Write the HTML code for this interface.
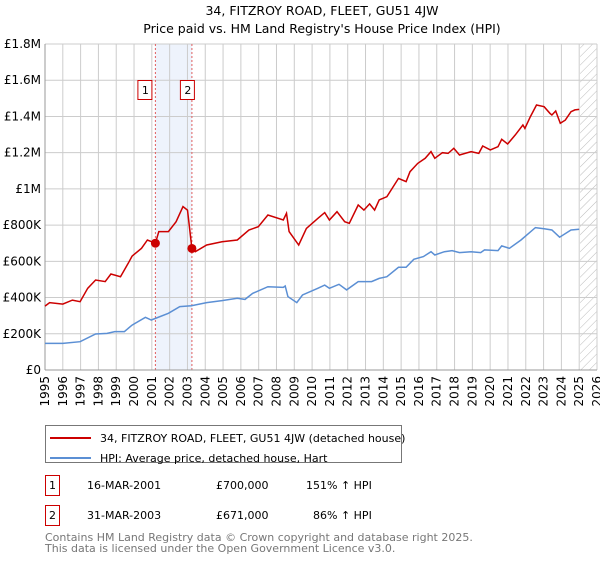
<!DOCTYPE html>
<html><head><meta charset="utf-8"><style>
body{margin:0;background:#fff;font-family:"Liberation Sans","DejaVu Sans",sans-serif}
</style></head><body>
<svg id="c" width="600" height="560" xmlns="http://www.w3.org/2000/svg" style="font-family:'DejaVu Sans','Liberation Sans',sans-serif">
<text x="322" y="15" text-anchor="middle" font-size="12.5">34, FITZROY ROAD, FLEET, GU51 4JW</text>
<text x="322" y="33" text-anchor="middle" font-size="12.5">Price paid vs. HM Land Registry's House Price Index (HPI)</text>
<g id="grid"></g><g id="axes"></g><g id="series"></g>
<g>
<rect x="45.5" y="425.5" width="356" height="37" fill="#fff" stroke="#777"/>
<line x1="50" y1="438" x2="91" y2="438" stroke="#cc0000" stroke-width="2"/>
<text x="100" y="442" font-size="11">34, FITZROY ROAD, FLEET, GU51 4JW (detached house)</text>
<line x1="50" y1="458" x2="91" y2="458" stroke="#5b8fd4" stroke-width="2"/>
<text x="100" y="462" font-size="11">HPI: Average price, detached house, Hart</text>
</g>
<g font-size="11">
<rect x="45.5" y="475.5" width="14" height="20" fill="#fff" stroke="#cc0000"/><text x="52.5" y="489" text-anchor="middle">1</text>
<text x="87" y="489">16-MAR-2001</text><text x="216" y="489">£700,000</text><text x="306" y="489">151% ↑ HPI</text>
<rect x="45.5" y="505.5" width="14" height="20" fill="#fff" stroke="#cc0000"/><text x="52.5" y="519" text-anchor="middle">2</text>
<text x="87" y="519">31-MAR-2003</text><text x="216" y="519">£671,000</text><text x="313" y="519">86% ↑ HPI</text>
</g>
<text x="45" y="541" font-size="11" fill="#777">Contains HM Land Registry data © Crown copyright and database right 2025.</text>
<text x="45" y="552" font-size="11" fill="#777">This data is licensed under the Open Government Licence v3.0.</text>
</svg>
<script>
const redYears=[1995.0,1995.26,1996.0,1996.54,1996.97,1997.4,1997.84,1998.38,1998.7,1999.24,1999.67,1999.89,2000.42,2000.75,2001.2,2001.39,2001.93,2002.36,2002.75,2003.0,2003.25,2003.44,2004.08,2004.94,2005.8,2006.45,2006.98,2007.52,2008.38,2008.56,2008.71,2009.25,2009.68,2010.32,2010.71,2010.97,2011.4,2011.83,2012.09,2012.59,2012.91,2013.23,2013.51,2013.77,2014.2,2014.85,2015.28,2015.5,2015.93,2016.35,2016.68,2016.89,2017.32,2017.64,2017.96,2018.28,2018.93,2019.36,2019.58,2020.01,2020.44,2020.65,2020.98,2021.41,2021.84,2021.95,2022.26,2022.6,2023.03,2023.36,2023.47,2023.68,2023.94,2024.22,2024.54,2024.76,2025.0];
const redVals=[353,372,364,386,377,451,497,488,530,515,589,629,672,718,700,764,764,819,902,883,671,653,690,708,718,773,791,856,828,865,764,690,782,837,869,828,874,819,810,911,883,917,883,939,957,1058,1040,1095,1141,1169,1206,1169,1200,1196,1224,1187,1206,1196,1237,1215,1233,1274,1248,1298,1353,1334,1399,1463,1454,1417,1408,1430,1362,1380,1426,1436,1439];
const hpiYears=[1995.0,1996.0,1996.97,1997.84,1998.49,1998.92,1999.46,1999.89,2000.64,2000.97,2001.93,2002.57,2003.22,2004.08,2004.94,2005.8,2006.23,2006.66,2007.52,2008.38,2008.49,2008.64,2009.14,2009.46,2010.32,2010.71,2010.97,2011.51,2011.94,2012.59,2013.34,2013.77,2014.2,2014.85,2015.28,2015.71,2016.25,2016.68,2016.89,2017.43,2017.86,2018.28,2018.93,2019.47,2019.68,2020.44,2020.65,2021.08,2021.73,2022.54,2023.03,2023.47,2023.9,2024.54,2025.0];
const hpiVals=[147,147,156,199,202,212,212,248,291,276,313,350,355,372,383,396,390,423,460,456,464,405,372,414,451,469,451,473,442,488,488,506,515,567,567,611,626,653,635,653,659,648,653,648,663,659,685,672,718,786,780,773,733,773,777];
const yTicks=[0,200,400,600,800,1000,1200,1400,1600,1800];
const yLabels=["£0","£200K","£400K","£600K","£800K","£1M","£1.2M","£1.4M","£1.6M","£1.8M"];
const xTicks=[1995,1996,1997,1998,1999,2000,2001,2002,2003,2004,2005,2006,2007,2008,2009,2010,2011,2012,2013,2014,2015,2016,2017,2018,2019,2020,2021,2022,2023,2024,2025,2026];
const saleYears=[2001.2,2003.25];
const saleVals=[700,671];
const saleLabels=["1","2"];
const NS="http://www.w3.org/2000/svg";
const L=45,R=597,T=44,B=370;
const xs=y=>L+(y-1995)*(R-L)/31;
const ys=v=>B-v*(B-T)/1800;
function mk(p,tag,a){const e=document.createElementNS(NS,tag);for(const k in a)e.setAttribute(k,a[k]);p.appendChild(e);return e;}
const grid=document.getElementById('grid'),axes=document.getElementById('axes'),ser=document.getElementById('series');
// shaded band between sales
const band=mk(grid,'rect',{x:xs(saleYears[0]),y:T,width:xs(saleYears[1])-xs(saleYears[0]),height:B-T,fill:'#eef3fc'});


// hatch future region
const defs=mk(grid,'defs',{});
const pat=mk(defs,'pattern',{id:'h',width:6,height:6,patternUnits:'userSpaceOnUse',patternTransform:'rotate(45)'});
mk(pat,'line',{x1:0,y1:0,x2:0,y2:6,stroke:'#bbb','stroke-width':1});
const fut=mk(grid,'rect',{x:xs(2025.05),y:T,width:R-xs(2025.05),height:B-T,fill:'url(#h)'});


yTicks.forEach((v,i)=>{
 const g=mk(grid,'line',{x1:L,x2:R,y1:ys(v),y2:ys(v),stroke:'#ccc','stroke-width':1});
 
 
 const t=mk(axes,'text',{x:L-4,y:ys(v)+4,'text-anchor':'end','font-size':12});
 t.textContent=yLabels[i];
 
 
});
xTicks.forEach(y=>{
 const g=mk(grid,'line',{x1:xs(y),x2:xs(y),y1:T,y2:B,stroke:'#ccc','stroke-width':1});
 
 
 const t=mk(axes,'text',{x:0,y:0,'text-anchor':'end','font-size':12,transform:`translate(${xs(y)+4},${B+6}) rotate(-90)`});
 t.textContent=y;
 
 
});
mk(axes,'line',{x1:L,x2:L,y1:T,y2:B,stroke:'#999'});
mk(axes,'line',{x1:L,x2:R,y1:B,y2:B,stroke:'#999'});
saleYears.forEach((y,i)=>{
 const l=mk(grid,'line',{x1:xs(y),x2:xs(y),y1:T,y2:B,stroke:'#e06060','stroke-dasharray':'2,2'});
 
 
});
function path(xa,va,col,name){
 const d=xa.map((y,i)=>(i?'L':'M')+xs(y).toFixed(1)+','+ys(va[i]).toFixed(1)).join('');
 const p=mk(ser,'path',{d:d,fill:'none',stroke:col,'stroke-width':1.5});
 
 
}
path(hpiYears,hpiVals,'#5b8fd4','hpi-line');
path(redYears,redVals,'#cc0000','price-line');
saleYears.forEach((y,i)=>{
 const c=mk(ser,'circle',{cx:xs(y),cy:ys(saleVals[i]),r:4.5,fill:'#cc0000'});
 
 
 const bx=xs(y)-(i===0?10:4);
 const r=mk(ser,'rect',{x:bx-7.5,y:80.5,width:14,height:19,fill:'#fff',stroke:'#cc0000'});
 
 
 const t=mk(ser,'text',{x:bx,y:94,'text-anchor':'middle','font-size':11});
 t.textContent=saleLabels[i];
 
 
});
</script>
</body></html>
